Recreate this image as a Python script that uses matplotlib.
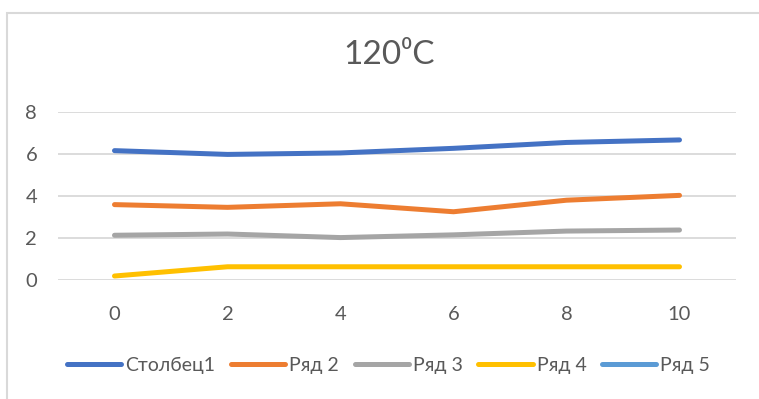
import matplotlib.pyplot as plt
from matplotlib.patches import Rectangle

plt.rcParams['font.family'] = ['Lato', 'DejaVu Sans']

# данные
x = [0, 2, 4, 6, 8, 10]
stolbec1 = [6.16, 5.98, 6.05, 6.27, 6.55, 6.67]
ryad2 = [3.59, 3.46, 3.63, 3.25, 3.80, 4.03]
ryad3 = [2.13, 2.19, 2.02, 2.15, 2.33, 2.38]
ryad4 = [0.19, 0.63, 0.63, 0.63, 0.63, 0.63]
ryad5 = []

names = ['Столбец1', 'Ряд 2', 'Ряд 3', 'Ряд 4', 'Ряд 5']
colors = ['#4472C4', '#ED7D31', '#A5A5A5', '#FFC000', '#5B9BD5']
text_c = '#595959'

fig = plt.figure(figsize=(7.59, 3.99), dpi=100)
ax = fig.add_axes([58 / 759, 1 - 280 / 399, (736 - 58) / 759, (280 - 112) / 399])

series = [stolbec1, ryad2, ryad3, ryad4]
for ys, name, c in zip(series, names, colors):
    ax.plot(x, ys, color=c, lw=3.6, solid_capstyle='round', solid_joinstyle='round', label=name)
ax.plot(x[:len(ryad5)], ryad5, color=colors[4], lw=3.6, solid_capstyle='round', label=names[4])

ax.set_xlim(-1, 11)
ax.set_ylim(0, 8)
ax.set_xticks(x)
ax.set_yticks([0, 2, 4, 6, 8])
ax.grid(axis='y', color='#D9D9D9', lw=1.3)
ax.set_axisbelow(True)
for s in ax.spines.values():
    s.set_visible(False)
ax.tick_params(length=0, labelsize=14.5, labelcolor=text_c)
ax.tick_params(axis='x', pad=19)
ax.tick_params(axis='y', pad=15)

fig.text(0.512, 1 - 55 / 399, '120⁰C', ha='center', va='center', fontsize=24, color=text_c)

leg = fig.legend(loc='center', bbox_to_anchor=(0.512, 1 - 365 / 399), ncol=5, frameon=False,
                 fontsize=14, handlelength=2.8, handletextpad=0.2, columnspacing=0.8,
                 labelcolor=text_c)

# рамка области диаграммы
fig.patches.append(Rectangle((7 / 759, -0.1), 1.2, 1.1 - 13 / 399, transform=fig.transFigure,
                             fill=False, edgecolor='#D9D9D9', lw=1.5))

fig.savefig('out.png', dpi=100)
